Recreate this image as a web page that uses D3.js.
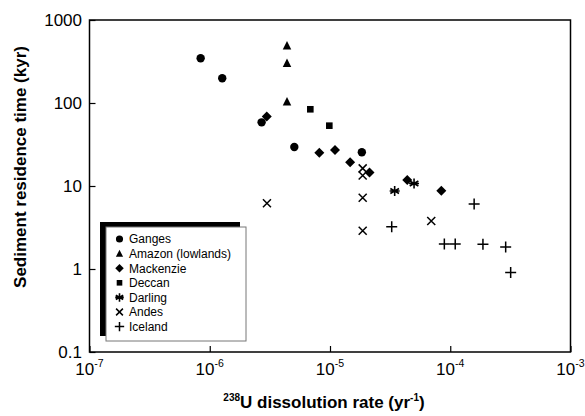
<!DOCTYPE html>
<html><head><meta charset="utf-8">
<script src="https://cdn.jsdelivr.net/npm/d3@7"></script>
<style>
html,body{margin:0;padding:0;background:#fff;}
svg{display:block;font-family:"Liberation Sans",Arial,sans-serif;}
</style></head>
<body><svg id="chart" width="585" height="416"></svg>
<script>
// ---- data ----
const xTickExps = [-7, -6, -5, -4, -3];
const yTickValues = [0.1, 1, 10, 100, 1000];
const yTickLabels = ["0.1", "1", "10", "100", "1000"];

const gangesX = [8.4e-7, 1.27e-6, 2.7e-6, 5.05e-6, 1.84e-5];
const gangesY = [346, 199, 58.5, 29.5, 25.5];
const amazonX = [4.39e-6, 4.39e-6, 4.39e-6];
const amazonY = [490, 301, 104];
const mackenzieX = [2.98e-6, 8.15e-6, 1.10e-5, 1.47e-5, 2.13e-5, 4.39e-5, 8.43e-5];
const mackenzieY = [69, 25.2, 27.1, 19.3, 14.5, 11.8, 8.78];
const deccanX = [6.86e-6, 9.87e-6];
const deccanY = [84, 53.3];
const darlingX = [3.45e-5, 5.0e-5];
const darlingY = [8.7, 10.7];
const andesX = [2.99e-6, 1.87e-5, 1.87e-5, 1.87e-5, 1.87e-5, 6.95e-5];
const andesY = [6.19, 16.3, 13.4, 7.23, 2.89, 3.79];
const icelandX = [3.26e-5, 8.93e-5, 1.10e-4, 1.58e-4, 1.87e-4, 2.89e-4, 3.18e-4];
const icelandY = [3.23, 2.0, 2.0, 6.07, 1.99, 1.84, 0.91];

const seriesNames = ["Ganges", "Amazon (lowlands)", "Mackenzie", "Deccan", "Darling", "Andes", "Iceland"];
const seriesX = [gangesX, amazonX, mackenzieX, deccanX, darlingX, andesX, icelandX];
const seriesY = [gangesY, amazonY, mackenzieY, deccanY, darlingY, andesY, icelandY];
const seriesShape = ["circle", "triangle", "diamond", "square", "asterisk", "cross", "plus"];

// ---- layout ----
const svg = d3.select("#chart");
const L = 89.5, T = 20, W = 481, H = 332;
const x = d3.scaleLog().domain([1e-7, 1e-3]).range([L, L + W]);
const y = d3.scaleLog().domain([0.1, 1000]).range([T + H, T]);

// symbol drawing
function drawSymbol(g, shape, cx, cy, s) {
  const k = s || 1;
  if (shape === "circle") {
    g.append("circle").attr("cx", cx).attr("cy", cy).attr("r", 4.2 * k).attr("fill", "#000");
  } else if (shape === "triangle") {
    const h = 8.5 * k, w = 8.5 * k;
    g.append("path").attr("d", `M${cx},${cy - h * 0.55}L${cx + w / 2},${cy + h * 0.45}L${cx - w / 2},${cy + h * 0.45}Z`).attr("fill", "#000");
  } else if (shape === "diamond") {
    const r = 5 * k;
    g.append("path").attr("d", `M${cx},${cy - r}L${cx + r},${cy}L${cx},${cy + r}L${cx - r},${cy}Z`).attr("fill", "#000");
  } else if (shape === "square") {
    const r = 3.3 * k;
    g.append("rect").attr("x", cx - r).attr("y", cy - r).attr("width", 2 * r).attr("height", 2 * r).attr("fill", "#000");
  } else if (shape === "asterisk") {
    const r = 5 * k;
    const p = [];
    for (let i = 0; i < 3; i++) {
      const a = Math.PI / 2 + i * Math.PI / 3;
      p.push(`M${cx + r * Math.cos(a)},${cy + r * Math.sin(a)}L${cx - r * Math.cos(a)},${cy - r * Math.sin(a)}`);
    }
    p.push(`M${cx - r},${cy}L${cx + r},${cy}`);
    g.append("path").attr("d", p.join("")).attr("stroke", "#000").attr("stroke-width", 1.6).attr("fill", "none");
  } else if (shape === "cross") {
    const r = 4 * k;
    g.append("path").attr("d", `M${cx - r},${cy - r}L${cx + r},${cy + r}M${cx - r},${cy + r}L${cx + r},${cy - r}`)
      .attr("stroke", "#000").attr("stroke-width", 1.5).attr("fill", "none");
  } else if (shape === "plus") {
    const r = 5.5 * k;
    g.append("path").attr("d", `M${cx - r},${cy}L${cx + r},${cy}M${cx},${cy - r}L${cx},${cy + r}`)
      .attr("stroke", "#000").attr("stroke-width", 1.5).attr("fill", "none");
  }
}

// ---- axes ----
const xAxis = d3.axisBottom(x).tickValues(xTickExps.map(e => Math.pow(10, e))).tickSizeInner(-6).tickSizeOuter(0).tickFormat("");
const gx = svg.append("g").attr("transform", `translate(0,${T + H})`).call(xAxis);
gx.select(".domain").remove();
gx.selectAll(".tick line").attr("stroke", "#000").attr("stroke-width", 1.2);

const yAxis = d3.axisLeft(y).tickValues(yTickValues).tickSizeInner(-6).tickSizeOuter(0).tickFormat("");
const gy = svg.append("g").attr("transform", `translate(${L},0)`).call(yAxis);
gy.select(".domain").remove();
gy.selectAll(".tick line").attr("stroke", "#000").attr("stroke-width", 1.2);

// x tick labels with superscripts
xTickExps.forEach(e => {
  const t = svg.append("text").attr("x", x(Math.pow(10, e))).attr("y", T + H + 22.5)
    .attr("text-anchor", "middle").attr("font-size", 17).attr("fill", "#000");
  t.append("tspan").text("10");
  t.append("tspan").attr("font-size", 10.5).attr("dy", -7.5).text("-" + Math.abs(e));
});
// y tick labels
yTickValues.forEach((v, i) => {
  svg.append("text").attr("x", 82).attr("y", y(v)).attr("dy", "0.35em")
    .attr("text-anchor", "end").attr("font-size", 17).attr("fill", "#000").text(yTickLabels[i]);
});

// frame
svg.append("rect").attr("x", L).attr("y", T).attr("width", W).attr("height", H)
  .attr("fill", "none").attr("stroke", "#000").attr("stroke-width", 1.5);

// axis titles
const xt = svg.append("text").attr("x", 324).attr("y", 408).attr("text-anchor", "middle")
  .attr("font-size", 17).attr("font-weight", "bold").attr("fill", "#000");
xt.append("tspan").attr("font-size", 10).attr("dy", -7).text("238");
xt.append("tspan").attr("dy", 7).text("U dissolution rate (yr");
xt.append("tspan").attr("font-size", 10).attr("dy", -7).text("-1");
xt.append("tspan").attr("dy", 7).text(")");

svg.append("text").attr("transform", "translate(26,167) rotate(-90)").attr("text-anchor", "middle")
  .attr("font-size", 17).attr("font-weight", "bold").attr("fill", "#000")
  .text("Sediment residence time (kyr)");

// ---- legend ----
const lg = svg.append("g");
lg.append("rect").attr("x", 100).attr("y", 222).attr("width", 140).attr("height", 114).attr("fill", "#000");
lg.append("rect").attr("x", 106).attr("y", 227).attr("width", 140).attr("height", 114)
  .attr("fill", "#fff").attr("stroke", "#777").attr("stroke-width", 1);
seriesNames.forEach((n, i) => {
  const cy = 239 + i * 14.6;
  drawSymbol(lg, seriesShape[i], 119.5, cy, 0.85);
  lg.append("text").attr("x", 129).attr("y", cy).attr("dy", "0.36em").attr("font-size", 12)
    .attr("fill", "#000").text(n);
});

// ---- points ----
const pg = svg.append("g");
seriesNames.forEach((n, i) => {
  seriesX[i].forEach((xv, j) => {
    drawSymbol(pg, seriesShape[i], x(xv), y(seriesY[i][j]), 1);
  });
});
</script></body></html>
